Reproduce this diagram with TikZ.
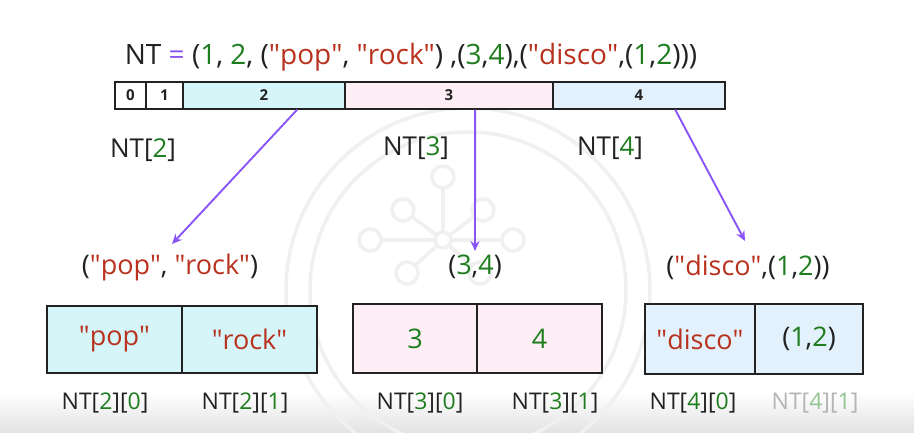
\documentclass[tikz,border=0pt]{standalone}
\usepackage{fontspec}
\setmainfont{Open Sans}
\usetikzlibrary{arrows.meta,calc}
\definecolor{tred}{HTML}{B8321E}
\definecolor{tgreen}{HTML}{1E7D1E}
\definecolor{tdark}{HTML}{222222}
\definecolor{tpurple}{HTML}{8A55F7}
\definecolor{ccyan}{HTML}{D5F5F9}
\definecolor{cpink}{HTML}{FDEFF5}
\definecolor{cblue}{HTML}{E2F1FB}
\definecolor{lgray}{HTML}{B4B4B4}
\definecolor{lgreen}{HTML}{93C493}
\definecolor{wmark}{HTML}{F0F0F0}
\newcommand\dq{\XeTeXglyph\XeTeXcharglyph"22\relax}
\newcommand\gr[1]{\textcolor{tgreen}{#1}}
\newcommand\rd[1]{\textcolor{tred}{\dq#1\dq}}
\newcommand\fs[1]{\fontsize{#1}{#1}\selectfont}
\begin{document}
\begin{tikzpicture}[x=1pt,y=-1pt,
  every node/.style={text=tdark},
  cell/.style={draw=tdark, line width=1.1pt, minimum height=27, inner sep=0, font=\fs{15}\bfseries},
  ebox/.style={draw=tdark, line width=1.4pt, inner sep=0, font=\fs{27}},
  lbl/.style={inner sep=0, font=\fs{26}},
  tup/.style={inner sep=0, font=\fs{27}},
  idx/.style={inner sep=0, font=\fs{23}},
  wm/.style={draw=wmark, line width=3.5pt},
  arr/.style={draw=tpurple, line width=1.9pt, -{Stealth[length=10pt,width=9pt]}}]
\useasboundingbox (0,0) rectangle (914,432);
\fill[white] (0,0) rectangle (914,432);
\shade[top color=white, bottom color=black!11] (0,392) rectangle (914,432);
% watermark
\draw[wm] (468,290) circle (182);
\draw[wm] (468,290) circle (158);
\coordinate (w0) at (443,240);
\foreach \p in {(443,177),(403,210),(483,210),(370,240),(513,240),(407,273),(480,273)}{
  \draw[wm] (w0) -- \p;
  \draw[wm, fill=white] \p circle (11);
}
\draw[wm, fill=white] (w0) circle (8);

% title
\node[inner sep=0, font=\fs{28}] (title) at (411,57) {NT \textcolor{tpurple}{=} (\gr{1}, \gr{2}, (\rd{pop}, \rd{rock}) ,(\gr{3},\gr{4}),(\rd{disco},(\gr{1},\gr{2})))};

% array bar
\node[cell, fill=white, minimum width=31] (c0) at (130.5,95.5) {0};
\node[cell, fill=white, minimum width=37] (c1) at (164.5,95.5) {1};
\node[cell, fill=ccyan, minimum width=162] (c2) at (264,95.5) {2};
\node[cell, fill=cpink, minimum width=208] (c3) at (449,95.5) {3};
\node[cell, fill=cblue, minimum width=172] (c4) at (639,95.5) {4};

% index labels
\node[lbl] (n2) at (143,150) {NT[\gr{2}]};
\node[lbl] (n3) at (416,148) {NT[\gr{3}]};
\node[lbl] (n4) at (610,148) {NT[\gr{4}]};

% tuple labels
\node[tup] (tA) at (170,267) {(\rd{pop}, \rd{rock})};
\node[tup] (tB) at (475,267) {(\gr{3},\gr{4})};
\node[tup] (tC) at (748,267) {(\rd{disco},(\gr{1},\gr{2}))};

% arrows
\coordinate (sA) at ($(c2.south west)!0.704!(c2.south east)$);
\coordinate (sB) at ($(c3.south west)!0.625!(c3.south east)$);
\coordinate (sC) at ($(c4.south west)!0.709!(c4.south east)$);
\coordinate (eA) at (172,244);
\coordinate (eB) at (475,251);
\coordinate (eC) at (745,241);
\draw[arr] (sA) -- (eA);
\draw[arr] (sB) -- (eB);
\draw[arr] (sC) -- (eC);

% element boxes
\node[ebox, fill=ccyan, minimum width=135, minimum height=67] (a0) at (114.5,339.5) {\rd{pop}};
\node[ebox, fill=ccyan, minimum width=135, minimum height=67] (a1) at (249.5,339.5) {\rd{rock}};
\node[ebox, fill=cpink, minimum width=124, minimum height=69] (b0) at (415,338.5) {\gr{3}};
\node[ebox, fill=cpink, minimum width=125, minimum height=69] (b1) at (539.5,338.5) {\gr{4}};
\node[ebox, fill=cblue, minimum width=110, minimum height=70] (d0) at (700,339) {\rd{disco}};
\node[ebox, fill=cblue, minimum width=108, minimum height=70] (d1) at (809,339) {(\gr{1},\gr{2})};

% bottom index labels
\node[idx] (i20) at (105,403) {NT[\gr{2}][\gr{0}]};
\node[idx] (i21) at (245,403) {NT[\gr{2}][\gr{1}]};
\node[idx] (i30) at (420,403) {NT[\gr{3}][\gr{0}]};
\node[idx] (i31) at (555,403) {NT[\gr{3}][\gr{1}]};
\node[idx] (i40) at (693,403) {NT[\gr{4}][\gr{0}]};
\node[idx, text=lgray] (i41) at (815,403) {NT[\textcolor{lgreen}{4}][\textcolor{lgreen}{1}]};
\end{tikzpicture}
\end{document}
